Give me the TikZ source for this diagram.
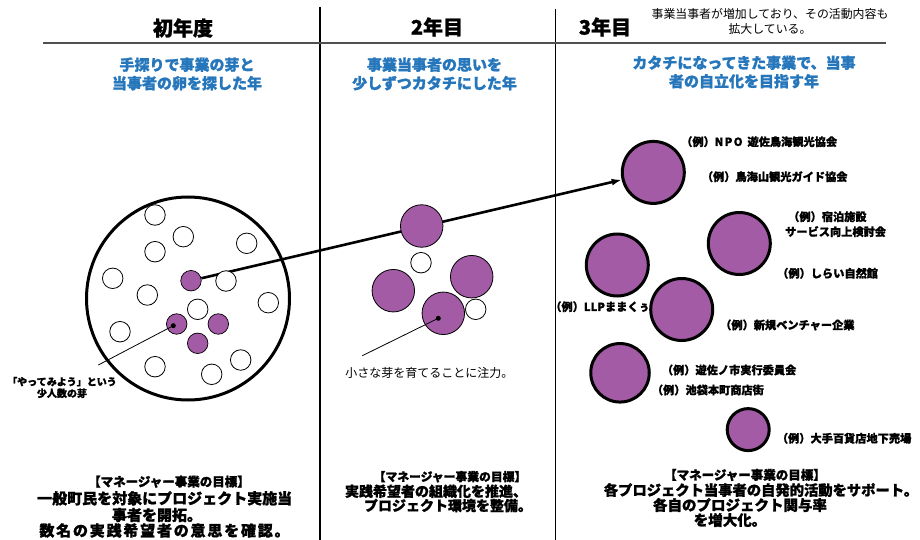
\documentclass[tikz,border=0pt]{standalone}
\usepackage{fontspec}
\setmainfont{Noto Sans CJK JP}[BoldFeatures={FakeBold=1.2}]
\usetikzlibrary{backgrounds,arrows.meta}
\definecolor{purp}{RGB}{163,91,165}
\definecolor{blu}{RGB}{38,118,188}
\definecolor{hgray}{RGB}{80,80,80}
\begin{document}
\begin{tikzpicture}[x=1pt,y=-1pt,
  vline/.style={line width=1.3pt,black},
  hline/.style={line width=2pt,hgray},
  bigc/.style={circle,draw=black,line width=3pt,minimum size=203pt,inner sep=0pt},
  wsm/.style={circle,draw=black,line width=0.8pt,fill=white,minimum size=20.5pt,inner sep=0pt},
  psm/.style={circle,draw=black,line width=0.7pt,fill=purp,minimum size=20.5pt,inner sep=0pt},
  pmd/.style={circle,draw=black,line width=0.8pt,fill=purp,minimum size=42.5pt,inner sep=0pt},
  plg/.style={circle,draw=black,line width=3pt,fill=purp,minimum size=#1,inner sep=0pt},
  seeddot/.style={circle,fill=black,minimum size=5pt,inner sep=0pt},
  lead/.style={line width=0.8pt,black},
  arr/.style={line width=2.6pt,black,-{Latex[length=10pt,width=7pt]}},
  ttl/.style={font=\fontsize{20}{24}\selectfont\bfseries,inner sep=0pt},
  subttl/.style={font=\fontsize{15}{18.5}\selectfont\bfseries,text=blu,align=center,inner sep=0pt},
  exlab/.style={font=\fontsize{11.2}{15}\selectfont\bfseries,inner sep=0pt,anchor=west},
  hdr/.style={font=\fontsize{12.5}{14}\selectfont\bfseries,inner sep=0pt},
  body/.style={font=\fontsize{15}{16}\selectfont\bfseries,inner sep=0pt},
  bodym/.style={font=\fontsize{14}{16}\selectfont\bfseries,inner sep=0pt},
  note/.style={font=\fontsize{11.9}{15}\selectfont,align=center,inner sep=0pt},
  seedlab/.style={font=\fontsize{10}{11.6}\selectfont\bfseries,align=center,inner sep=0pt}
]
\useasboundingbox (0,0) rectangle (920,540);
% frame lines
\coordinate (v1t) at (320,7); \coordinate (v1b) at (320,540);
\coordinate (v2t) at (555.5,9); \coordinate (v2b) at (555.5,540);
\coordinate (hl) at (43,43); \coordinate (hr) at (886,43);
\draw[vline] (v1t) -- (v1b);
\draw[vline] (v2t) -- (v2b);
\draw[hline] (hl) -- (hr);
% titles
\node[ttl] (t1) at (183,28) {初年度};
\node[ttl] (t2) at (437,27) {2年目};
\node[ttl] (t3) at (605,27) {3年目};
\node[note] (nt) at (770,21.5) {事業当事者が増加しており、その活動内容も\\拡大している。};
\node[subttl] (s1) at (187,74) {手探りで事業の芽と\\当事者の卵を探した年};
\node[subttl] (s2) at (434.5,74) {事業当事者の思いを\\少しずつカタチにした年};
\node[subttl] (s3) at (744,72) {カタチになってきた事業で、当事\\者の自立化を目指す年};
% column 1
\node[bigc] (big) at (188,298.5) {};
\node[wsm] (w1) at (155,215) {};
\node[wsm] (w2) at (183.3,236.7) {};
\node[wsm] (w3) at (155,251.7) {};
\node[wsm] (w4) at (246.7,243.3) {};
\node[wsm] (w5) at (112.7,278.3) {};
\node[wsm] (w6) at (147.3,295) {};
\node[wsm] (w7) at (226,281) {};
\node[wsm] (w8) at (268.3,302.7) {};
\node[wsm] (w9) at (197.7,309.3) {};
\node[wsm] (w10) at (120,331.7) {};
\node[wsm] (w11) at (240.7,360) {};
\node[wsm] (w12) at (155,366.7) {};
\node[wsm] (w13) at (211.7,374.3) {};
\node[psm] (p1) at (191,280.7) {};
\node[psm] (p2) at (176.7,324) {};
\node[psm] (p3) at (218.3,324) {};
\node[psm] (p4) at (197.7,343.3) {};
\node[seeddot] (d1) at (173.3,325.7) {};
\coordinate (l1) at (98.3,365);
\draw[lead] (d1) -- (l1);
\node[seedlab] (lab1) at (62,387.5) {「やってみよう」という\\少人数の芽};
% column 2
\node[pmd] (c2a) at (421.7,226) {};
\node[wsm] (c2w1) at (421,262.7) {};
\node[pmd] (c2b) at (393.3,290.7) {};
\node[pmd] (c2c) at (471.7,276.7) {};
\node[pmd] (c2d) at (443.3,313.3) {};
\node[wsm] (c2w2) at (475.7,309.3) {};
\node[seeddot] (d2) at (438.3,318.3) {};
\coordinate (l2) at (362.3,355.7);
\draw[lead] (d2) -- (l2);
\node[font=\fontsize{12}{14}\selectfont,inner sep=0pt] (lab2) at (429.4,373.3) {小さな芽を育てることに注力。};
% column 3 labels
\node[exlab] (e1) at (681,141.7) {（例）{\addfontfeature{LetterSpace=12}NPO}\hspace{5pt}遊佐鳥海観光協会};
\node[exlab] (e2) at (701.7,176.7) {（例）鳥海山観光ガイド協会};
\node[exlab,align=left] (e3) at (785,224.2) {\hspace{3pt}（例）宿泊施設\\サービス向上検討会};
\node[exlab] (e4) at (777,273.3) {（例）しらい自然館};
\node[exlab,anchor=east] (e5) at (650,306.7) {（例）LLPままくぅ};
\node[exlab] (e6) at (720,325) {（例）新規ベンチャー企業};
\node[exlab] (e7) at (661.7,370) {（例）遊佐ノ市実行委員会};
\node[exlab] (e8) at (651.7,390) {（例）池袋本町商店街};
\node[exlab] (e9) at (776.7,438.3) {（例）大手百貨店地下売場};
% column 3 circles
\node[plg=62pt] (A) at (653.3,172.4) {};
\node[plg=62pt] (B) at (739.3,243.5) {};
\node[plg=62pt] (C) at (617.3,265) {};
\node[plg=62pt] (D) at (681.7,309.5) {};
\node[plg=58.5pt] (E) at (620,372.8) {};
\node[plg=42pt] (F) at (748.2,429.6) {};
% arrow
\begin{pgfonlayer}{background}
\draw[arr] (p1) -- (A);
\end{pgfonlayer}
% bottom texts
\node[hdr] (h1) at (169,481.7) {【マネージャー事業の目標】};
\node[body] (b1a) at (164.7,498.3) {一般町民を対象にプロジェクト実施当};
\node[body] (b1b) at (157,515) {事者を開拓。};
\node[body] (b1c) at (164.5,530.5) {\addfontfeature{LetterSpace=12}数名の実践希望者の意思を確認。};
\node[hdr,font=\fontsize{11.8}{14}\selectfont\bfseries] (h2) at (450,476.7) {【マネージャー事業の目標】};
\node[bodym] (b2a) at (436,491.3) {実践希望者の組織化を推進、};
\node[bodym] (b2b) at (448,505.5) {プロジェクト環境を整備。};
\node[hdr] (h3) at (745,475) {【マネージャー事業の目標】};
\node[body,font=\fontsize{14.3}{16}\selectfont\bfseries] (b3a) at (761,490) {各プロジェクト当事者の自発的活動をサポート。};
\node[body,font=\fontsize{14.5}{16}\selectfont\bfseries] (b3b) at (740,505) {各自のプロジェクト関与率};
\node[body,font=\fontsize{14.5}{16}\selectfont\bfseries] (b3c) at (730,520) {を増大化。};
\end{tikzpicture}
\end{document}
